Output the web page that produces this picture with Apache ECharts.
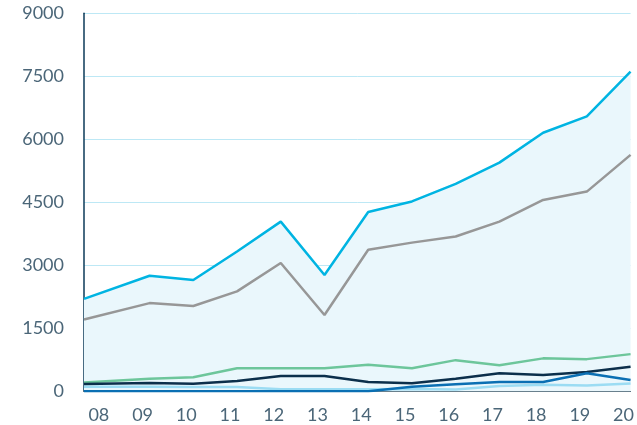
<!DOCTYPE html>
<html>
<head>
<meta charset="utf-8">
<script src="https://cdn.jsdelivr.net/npm/echarts@6/dist/echarts.min.js"></script>
<style>
  html, body { margin: 0; padding: 0; background: #fff; }
  #chart { width: 637px; height: 425px; }
</style>
</head>
<body>
<div id="chart"></div>
<script>
// 年份标签与数据点位置（首个点落在纵轴上）
const yearLabels = ["08", "09", "10", "11", "12", "13", "14", "15", "16", "17", "18", "19", "20"];
const labelPos = [8, 9, 10, 11, 12, 13, 14, 15, 16, 17, 18, 19, 20];
const pointPos = [7.5, 9, 10, 11, 12, 13, 14, 15, 16, 17, 18, 19, 20];

// 各条曲线的数值
const cyanData = [2200, 2750, 2650, 3330, 4040, 2770, 4270, 4520, 4940, 5445, 6155, 6545, 7610];
const grayData = [1710, 2100, 2030, 2380, 3055, 1815, 3370, 3540, 3685, 4040, 4555, 4755, 5630];
const greenData = [212, 300, 333, 548, 548, 548, 630, 548, 742, 618, 784, 766, 885];
const navyData = [175, 195, 180, 245, 364, 364, 221, 190, 300, 428, 388, 458, 586];
const blueData = [0, 0, 0, 0, 0, 0, 0, 110, 167, 221, 221, 428, 270];
const lightData = [110, 110, 100, 105, 50, 50, 50, 55, 45, 128, 158, 140, 188];

const yTicks = [0, 1500, 3000, 4500, 6000, 7500, 9000];

const toPairs = (vals) => vals.map((v, i) => [pointPos[i], v]);

const labelColor = "#4b6678";
const fontFamily = "Lato";

const lineSeries = (name, data, color, extra) => Object.assign({
  name: name,
  type: "line",
  data: toPairs(data),
  symbol: "none",
  lineStyle: { color: color, width: 2.5 },
  z: 3,
}, extra || {});

const option = {
  animation: false,
  grid: { left: 84, right: 0, top: 13.3, bottom: 33.7 },
  xAxis: {
    type: "value",
    min: 7.5,
    max: 20,
    axisLine: { show: true, onZero: false, lineStyle: { color: "#3e5868", width: 1 } },
    axisTick: { show: false },
    splitLine: { show: false },
    axisLabel: {
      customValues: labelPos,
      formatter: (v) => yearLabels[labelPos.indexOf(v)] || "",
      color: labelColor,
      fontFamily: fontFamily,
      fontSize: 18,
      margin: 15,
      padding: [0, 14, 0, 0],
    },
  },
  yAxis: {
    type: "value",
    min: 0,
    max: 9000,
    interval: 1500,
    axisLine: { show: true, lineStyle: { color: "#0b3a58", width: 1.5 } },
    axisTick: { show: false },
    splitLine: { show: true, lineStyle: { color: "#bde8f5", width: 1 } },
    axisLabel: {
      formatter: (v) => (yTicks.indexOf(v) >= 0 ? String(v) : ""),
      color: labelColor,
      fontFamily: fontFamily,
      fontSize: 18,
      margin: 20,
    },
  },
  series: [
    lineSeries("cyan", cyanData, "#00b4e2", {
      areaStyle: { color: "#eaf7fc", origin: "start", opacity: 1 },
      z: 2,
    }),
    lineSeries("gray", grayData, "#979797"),
    lineSeries("green", greenData, "#6dc69b"),
    lineSeries("light", lightData, "#9bdcf3"),
    lineSeries("navy", navyData, "#0b2f4b"),
    lineSeries("blue", blueData, "#0a6fb3"),
  ],
};

const chart = echarts.init(document.getElementById("chart"));
chart.setOption(option);
</script>
</body>
</html>
